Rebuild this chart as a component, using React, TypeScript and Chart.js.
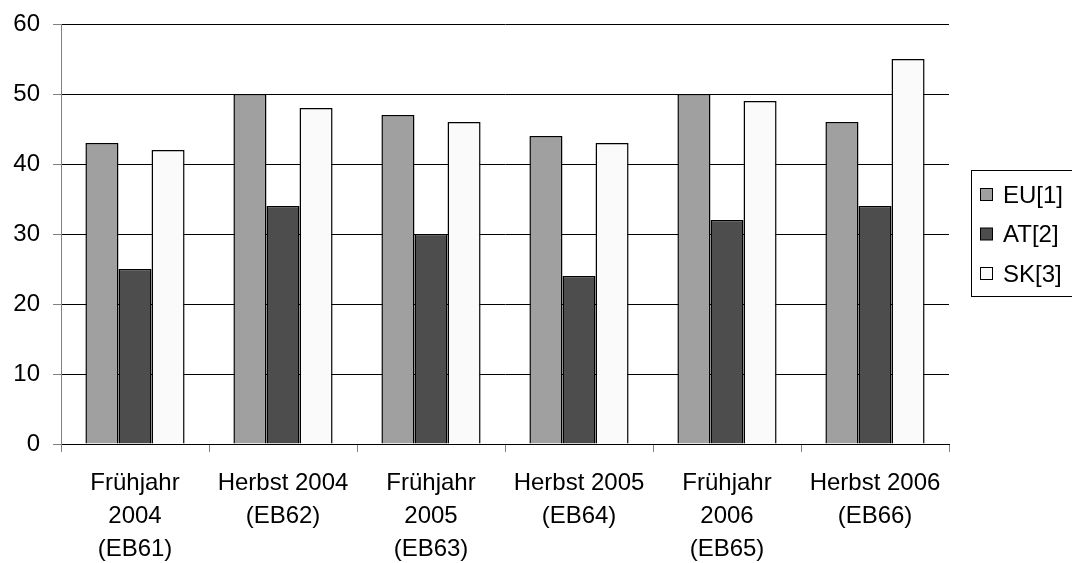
import React, { useEffect, useRef } from "react";
import { Chart, registerables } from "chart.js";

Chart.register(...registerables);

const categories: string[][] = [
  ["Frühjahr", "2004", "(EB61)"],
  ["Herbst 2004", "(EB62)"],
  ["Frühjahr", "2005", "(EB63)"],
  ["Herbst 2005", "(EB64)"],
  ["Frühjahr", "2006", "(EB65)"],
  ["Herbst 2006", "(EB66)"],
];
const seriesNames = ["EU[1]", "AT[2]", "SK[3]"];
const euValues = [43, 50, 47, 44, 50, 46];
const atValues = [25, 34, 30, 24, 32, 34];
const skValues = [42, 48, 46, 43, 49, 55];
const yTicks = [0, 10, 20, 30, 40, 50, 60];

const colors = ["#a0a0a0", "#4d4d4d", "#fafafa"];
const FONT = "Liberation Sans, Arial, sans-serif";

const legendPlugin = {
  id: "boxLegend",
  afterDraw(chart: any) {
    const ctx = chart.ctx;
    const x = 971, y = 170, w = 110, h = 126;
    ctx.save();
    ctx.strokeStyle = "#000";
    ctx.lineWidth = 1;
    ctx.strokeRect(x + 0.5, y + 0.5, w, h);
    ctx.font = `24px ${FONT}`;
    ctx.textBaseline = "middle";
    chart.data.datasets.forEach((ds: any, i: number) => {
      const cy = 195 + i * 39.5;
      ctx.fillStyle = ds.backgroundColor;
      ctx.fillRect(980.5, cy - 6.5, 12, 12);
      ctx.strokeStyle = "#000";
      ctx.strokeRect(980.5, cy - 6.5, 12, 12);
      ctx.fillStyle = "#000";
      ctx.fillText(ds.label, 1003, cy + 1);
    });
    ctx.restore();
  },
};

export default function App() {
  const ref = useRef<HTMLCanvasElement>(null);
  useEffect(() => {
    if (!ref.current) return;
    const values = [euValues, atValues, skValues];
    const chart = new Chart(ref.current, {
      type: "bar",
      data: {
        labels: categories,
        datasets: seriesNames.map((name, i) => ({
          label: name,
          data: values[i],
          backgroundColor: colors[i],
          borderColor: "#000",
          borderWidth: 1.5,
          categoryPercentage: 0.67,
          barPercentage: 1,
        })),
      },
      options: {
        animation: false,
        responsive: true,
        maintainAspectRatio: false,
        layout: { padding: { top: 0, right: 123, left: 0, bottom: 0 } },
        plugins: { legend: { display: false }, tooltip: { enabled: false } },
        scales: {
          x: {
            grid: {
              offset: true,
              drawOnChartArea: false,
              drawTicks: true,
              tickLength: 8,
              color: "#808080",
            },
            border: { color: "#000", width: 1 },
            ticks: {
              color: "#000",
              font: { family: FONT, size: 24, lineHeight: 1.37 },
              padding: 15,
              maxRotation: 0,
              autoSkip: false,
            },
            afterFit: (s: any) => { s.height = 119; },
          },
          y: {
            min: 0,
            max: 60,
            afterBuildTicks: (s: any) => { s.ticks = yTicks.map((v) => ({ value: v })); },
            grid: { color: "#000", lineWidth: 1, tickLength: 8, tickColor: "#808080" },
            border: { color: "#808080", width: 1 },
            ticks: {
              color: "#000",
              font: { family: FONT, size: 24, lineHeight: 0.92 },
              padding: 13,
            },
            afterFit: (s: any) => { s.width = 61; },
          },
        },
      },
      plugins: [legendPlugin],
    });
    return () => chart.destroy();
  }, []);
  return (
    <div style={{ position: "absolute", left: 0, top: 0, width: 1072, height: 563, background: "#fff" }}>
      <canvas ref={ref} />
    </div>
  );
}
